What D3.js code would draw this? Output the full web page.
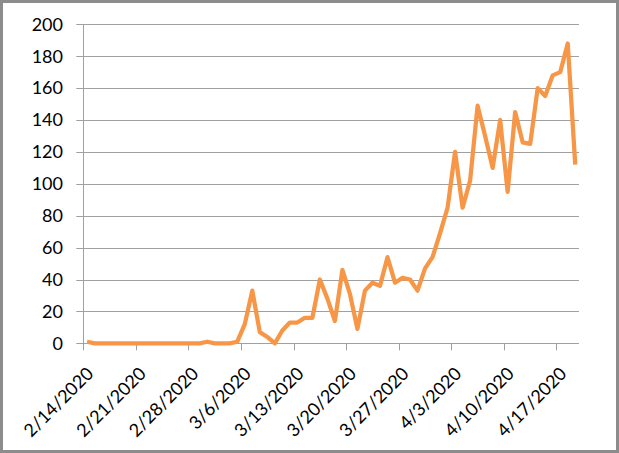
<!DOCTYPE html>
<html lang="en">
<head>
<meta charset="utf-8">
<title>Daily count chart</title>
<script src="https://d3js.org/d3.v7.min.js"></script>
<style>
  body { margin: 0; background: #fff; }
  .lbl { font-family: Lato, "Open Sans", sans-serif; font-size: 18px; fill: #000; }
</style>
</head>
<body>
<script>
// categories: one per day
var dates = [
  "2/14/2020","2/15/2020","2/16/2020","2/17/2020","2/18/2020","2/19/2020","2/20/2020",
  "2/21/2020","2/22/2020","2/23/2020","2/24/2020","2/25/2020","2/26/2020","2/27/2020",
  "2/28/2020","2/29/2020","3/1/2020","3/2/2020","3/3/2020","3/4/2020","3/5/2020",
  "3/6/2020","3/7/2020","3/8/2020","3/9/2020","3/10/2020","3/11/2020","3/12/2020",
  "3/13/2020","3/14/2020","3/15/2020","3/16/2020","3/17/2020","3/18/2020","3/19/2020",
  "3/20/2020","3/21/2020","3/22/2020","3/23/2020","3/24/2020","3/25/2020","3/26/2020",
  "3/27/2020","3/28/2020","3/29/2020","3/30/2020","3/31/2020","4/1/2020","4/2/2020",
  "4/3/2020","4/4/2020","4/5/2020","4/6/2020","4/7/2020","4/8/2020","4/9/2020",
  "4/10/2020","4/11/2020","4/12/2020","4/13/2020","4/14/2020","4/15/2020","4/16/2020",
  "4/17/2020","4/18/2020","4/19/2020"
];
var values = [
  1,0,0,0,0,0,0,
  0,0,0,0,0,0,0,
  0,0,1,0,0,0,1,
  12,33,7,4,0,8,13,
  13,16,16,40,28,14,46,
  31,9,33,38,36,54,38,
  41,40,33,47,54,69,85,
  120,85,102,149,130,110,140,
  95,145,126,125,160,155,168,
  170,188,112
];
var tickLabels = ["2/14/2020","2/21/2020","2/28/2020","3/6/2020","3/13/2020",
                  "3/20/2020","3/27/2020","4/3/2020","4/10/2020","4/17/2020"];
var yTicks = [0,20,40,60,80,100,120,140,160,180,200];

var W = 619, H = 453;
var plotL = 83.3, plotR = 579, plotT = 24.3, plotB = 343.3;

var svg = d3.select("body").append("svg")
    .attr("width", W).attr("height", H);

svg.append("rect")
    .attr("x", 1.5).attr("y", 1.5)
    .attr("width", W - 3).attr("height", H - 3)
    .attr("fill", "#fff").attr("stroke", "#8c8c8c").attr("stroke-width", 3);

var x = d3.scaleBand().domain(dates).range([plotL, plotR]).padding(0);
var y = d3.scaleLinear().domain([0, 200]).range([plotB, plotT]);

// gridlines
svg.append("g").selectAll("line")
    .data(yTicks)
    .enter().append("line")
    .attr("x1", plotL - 7).attr("x2", plotR)
    .attr("y1", function (d) { return Math.round(y(d)) + 0.5; })
    .attr("y2", function (d) { return Math.round(y(d)) + 0.5; })
    .attr("stroke", "#a0a0a0").attr("stroke-width", 1);

// y labels
svg.append("g").selectAll("text")
    .data(yTicks)
    .enter().append("text")
    .attr("class", "lbl")
    .attr("x", 63)
    .attr("y", function (d) { return y(d); })
    .attr("dy", "0.35em")
    .attr("text-anchor", "end")
    .text(function (d) { return d; });

// vertical axis line
svg.append("line")
    .attr("x1", Math.round(plotL) + 0.5).attr("x2", Math.round(plotL) + 0.5)
    .attr("y1", plotT).attr("y2", plotB)
    .attr("stroke", "#a0a0a0");

// x ticks at the start of every labelled day
svg.append("g").selectAll("line")
    .data(tickLabels)
    .enter().append("line")
    .attr("x1", function (d) { return Math.round(x(d)) + 0.5; })
    .attr("x2", function (d) { return Math.round(x(d)) + 0.5; })
    .attr("y1", plotB).attr("y2", plotB + 7)
    .attr("stroke", "#a0a0a0");

svg.append("g").selectAll("text")
    .data(tickLabels)
    .enter().append("text")
    .attr("class", "lbl")
    .attr("text-anchor", "end")
    .attr("dy", "0.35em")
    .attr("transform", function (d) {
        return "translate(" + (x(d) + x.bandwidth() / 2 + 3) + "," + (plotB + 27) + ") rotate(-45)";
    })
    .text(function (d) { return d; });

// the series
var line = d3.line()
    .x(function (d, i) { return x(dates[i]) + x.bandwidth() / 2; })
    .y(function (d) { return y(d); });

svg.append("path")
    .datum(values)
    .attr("d", line)
    .attr("fill", "none")
    .attr("stroke", "#f79646")
    .attr("stroke-width", 4.25)
    .attr("stroke-linejoin", "round");
</script>
</body>
</html>
